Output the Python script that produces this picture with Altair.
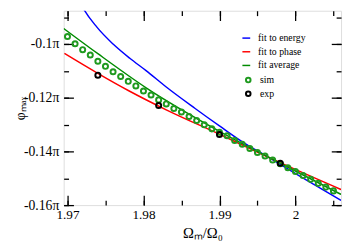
import altair as alt
import pandas as pd

# ---------------- data (phi in units of pi) ----------------
sim_x = [1.970, 1.971, 1.972, 1.973, 1.974, 1.975, 1.976, 1.977, 1.978, 1.979,
         1.980, 1.981, 1.982, 1.983, 1.984, 1.985, 1.986, 1.987, 1.988, 1.989,
         1.990, 1.991, 1.992, 1.993, 1.994, 1.995, 1.996, 1.997, 1.998, 1.999,
         2.000, 2.001, 2.002, 2.003, 2.004, 2.005]
sim_y = [-0.0972, -0.0999, -0.1021, -0.1041, -0.1064, -0.1083, -0.1103, -0.1121, -0.1139, -0.1156,
         -0.1175, -0.1190, -0.1208, -0.1223, -0.1240, -0.1253, -0.1270, -0.1285, -0.1301, -0.1316,
         -0.1329, -0.1342, -0.1359, -0.1373, -0.1389, -0.1404, -0.1417, -0.1432, -0.1446, -0.1461,
         -0.1475, -0.1490, -0.1504, -0.1519, -0.1533, -0.1547]

exp_x = [1.974, 1.982, 1.990, 1.998]
exp_y = [-0.1116, -0.1229, -0.1337, -0.1444]

energy_x = [1.9714, 1.9719, 1.9739, 1.9760, 1.9782, 1.9803, 1.9830, 1.9868, 1.9900, 1.9936, 1.9958, 2.0009, 2.0060]
energy_y = [-0.0829, -0.0858, -0.0938, -0.1000, -0.1053, -0.1098, -0.1160, -0.1240, -0.1305, -0.1375, -0.1411, -0.1498, -0.1582]

phase_x = [1.9696, 1.9741, 1.9780, 1.9830, 1.9900, 1.9980, 2.0060]
phase_y = [-0.1035, -0.1111, -0.1173, -0.1245, -0.1336, -0.1442, -0.1542]

avg_x = [1.9695, 1.9740, 1.9804, 1.9900, 1.9980, 2.0060]
avg_y = [-0.0942, -0.1036, -0.1164, -0.1325, -0.1444, -0.1560]

line_names = ["fit to energy", "fit to phase", "fit average"]
line_colors = ["#0000ff", "#ff0000", "#008b00"]
point_names = ["sim", "exp"]
point_colors = ["#1f9a1f", "#000000"]

x_major = [1.97, 1.98, 1.99, 2.0]
x_minor = [1.97, 1.975, 1.98, 1.985, 1.99, 1.995, 2.0, 2.005]
y_major = [-0.16, -0.14, -0.12, -0.1]
y_minor = [-0.16, -0.15, -0.14, -0.13, -0.12, -0.11, -0.10, -0.09]

X_DOMAIN = [1.9695, 2.006]
Y_DOMAIN = [-0.16, -0.0876]

# ---------------- tables ----------------
energy_df = pd.DataFrame({"x": energy_x, "y": energy_y, "series": line_names[0]})
phase_df = pd.DataFrame({"x": phase_x, "y": phase_y, "series": line_names[1]})
avg_df = pd.DataFrame({"x": avg_x, "y": avg_y, "series": line_names[2]})
pts_df = pd.concat([
    pd.DataFrame({"x": sim_x, "y": sim_y, "series": "sim"}),
    pd.DataFrame({"x": exp_x, "y": exp_y, "series": "exp"}),
], ignore_index=True)

serif = "Liberation Serif"
xs = alt.Scale(domain=X_DOMAIN, nice=False, zero=False)
ys = alt.Scale(domain=Y_DOMAIN, nice=False, zero=False)
common = dict(grid=False, domain=False, tickColor="black", tickWidth=1.3,
              labelFlush=False, labelOverlap=False)

y_lab = "'-' + format(-datum.value, '.2~f') + 'π'"

ax_x_bottom = alt.Axis(orient="bottom", values=x_major, offset=-10, tickSize=10,
                       format=".2~f", labelFont=serif, labelFontSize=13.5,
                       labelColor="black", labelPadding=3,
                       title="Ωₘ/Ω₀", titleFont=serif, titleFontSize=15,
                       titleFontWeight="normal", titleColor="black", titlePadding=5,
                       **common)
ax_x_bottom_minor = alt.Axis(orient="bottom", values=x_minor, offset=-5, tickSize=5,
                             labels=False, title=None, **common)
ax_x_top = alt.Axis(orient="top", values=x_major, offset=-10, tickSize=10,
                    labels=False, title=None, **common)
ax_x_top_minor = alt.Axis(orient="top", values=x_minor, offset=-5, tickSize=5,
                          labels=False, title=None, **common)

ax_y_left = alt.Axis(orient="left", values=y_major, offset=-10, tickSize=10,
                     labelExpr=y_lab, labelFont=serif, labelFontSize=14,
                     labelColor="black", labelPadding=5,
                     title="φₘₐₓ", titleFont=serif, titleFontSize=14,
                     titleFontWeight="normal", titleColor="black", titlePadding=-4,
                     **common)
ax_y_left_minor = alt.Axis(orient="left", values=y_minor, offset=-5, tickSize=5,
                           labels=False, title=None, **common)
ax_y_right = alt.Axis(orient="right", values=y_major, offset=-10, tickSize=10,
                      labels=False, title=None, **common)
ax_y_right_minor = alt.Axis(orient="right", values=y_minor, offset=-5, tickSize=5,
                            labels=False, title=None, **common)

line_leg = alt.Legend(orient="none", legendX=182, legendY=23, title=None,
                      symbolType="stroke", symbolSize=64, symbolStrokeWidth=1.5,
                      labelFont=serif, labelFontSize=10, labelColor="black",
                      labelOffset=7, rowPadding=4, padding=0)
pt_leg = alt.Legend(orient="none", legendX=184, legendY=66, title=None,
                    symbolType="circle", symbolSize=22, symbolStrokeWidth=2,
                    labelFont=serif, labelFontSize=10, labelColor="black",
                    labelOffset=7, rowPadding=0, padding=0)

color_enc = alt.Color("series:N", scale=alt.Scale(domain=line_names, range=line_colors),
                      legend=line_leg)


def line_layer(df, xa, ya):
    return alt.Chart(df).mark_line(strokeWidth=1.5, clip=True, interpolate="monotone").encode(
        x=alt.X("x:Q", scale=xs, axis=xa),
        y=alt.Y("y:Q", scale=ys, axis=ya),
        color=color_enc,
    )


blue = line_layer(energy_df, ax_x_bottom, ax_y_left)
red = line_layer(phase_df, ax_x_bottom_minor, ax_y_left_minor)
green = line_layer(avg_df, ax_x_top, ax_y_right)

points = alt.Chart(pts_df).mark_point(shape="circle", filled=False, size=27,
                                      strokeWidth=2, opacity=1, clip=True).encode(
    x=alt.X("x:Q", scale=xs, axis=ax_x_top_minor),
    y=alt.Y("y:Q", scale=ys, axis=ax_y_right_minor),
    stroke=alt.Stroke("series:N", scale=alt.Scale(domain=point_names, range=point_colors),
                      legend=pt_leg),
)

chart = (
    alt.layer(blue, red, green, points)
    .resolve_axis(x="independent", y="independent")
    .properties(width=284, height=199,
                autosize=alt.AutoSizeParams(type="none"),
                padding={"left": 57, "top": 0, "right": 2, "bottom": 37})
    .configure_view(stroke="black", strokeWidth=1.5)
    .configure(background="white")
)

chart.save("out.html", embed_options={"renderer": "svg", "actions": False})
